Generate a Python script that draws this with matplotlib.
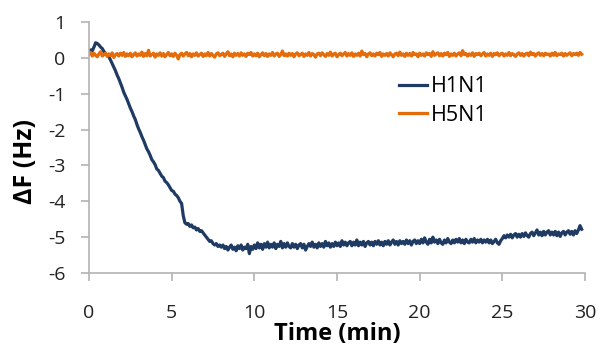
import numpy as np
import matplotlib
matplotlib.use('Agg')
import matplotlib.pyplot as plt

plt.rcParams['font.family'] = ['Open Sans', 'DejaVu Sans']
plt.rcParams['axes.unicode_minus'] = False

# sampled every 0.1 min, 0 .. 29.8 min
time_step = 0.1

h1n1 = [0.18, 0.22, 0.20, 0.30, 0.42, 0.40, 0.36, 0.30, 0.26, 0.18,
        0.12, 0.08, 0.03, -0.06, -0.16, -0.26, -0.36, -0.48, -0.58, -0.70,
        -0.82, -0.96, -1.06, -1.16, -1.28, -1.40, -1.50, -1.62, -1.72, -1.86,
        -1.98, -2.08, -2.20, -2.30, -2.42, -2.54, -2.62, -2.72, -2.84, -2.90,
        -2.98, -3.10, -3.14, -3.22, -3.30, -3.34, -3.44, -3.48, -3.54, -3.62,
        -3.70, -3.72, -3.80, -3.84, -3.90, -4.00, -4.06, -4.40, -4.60, -4.64,
        -4.62, -4.70, -4.66, -4.74, -4.72, -4.80, -4.76, -4.84, -4.82, -4.88,
        -4.94, -5.00, -5.06, -5.12, -5.10, -5.18, -5.22, -5.18, -5.26, -5.22,
        -5.28, -5.22, -5.32, -5.26, -5.36, -5.28, -5.22, -5.34, -5.28, -5.38,
        -5.24, -5.32, -5.22, -5.36, -5.28, -5.32, -5.20, -5.46, -5.26, -5.34,
        -5.22, -5.32, -5.16, -5.30, -5.20, -5.34, -5.18, -5.28, -5.14, -5.30,
        -5.20, -5.28, -5.16, -5.32, -5.20, -5.26, -5.12, -5.30, -5.18, -5.28,
        -5.16, -5.26, -5.30, -5.18, -5.28, -5.20, -5.32, -5.22, -5.18, -5.30,
        -5.20, -5.36, -5.26, -5.18, -5.26, -5.14, -5.28, -5.20, -5.30, -5.16,
        -5.26, -5.18, -5.28, -5.12, -5.24, -5.16, -5.28, -5.18, -5.26, -5.14,
        -5.24, -5.16, -5.26, -5.10, -5.22, -5.14, -5.24, -5.16, -5.12, -5.24,
        -5.14, -5.22, -5.08, -5.24, -5.14, -5.22, -5.12, -5.26, -5.16, -5.12,
        -5.22, -5.14, -5.24, -5.12, -5.20, -5.10, -5.22, -5.14, -5.24, -5.12,
        -5.20, -5.10, -5.22, -5.14, -5.08, -5.20, -5.12, -5.22, -5.10, -5.18,
        -5.12, -5.20, -5.08, -5.18, -5.10, -5.22, -5.12, -5.08, -5.18, -5.10,
        -5.18, -5.06, -5.16, -5.02, -5.14, -5.20, -5.06, -5.16, -5.00, -5.14,
        -5.08, -5.18, -5.06, -5.16, -5.20, -5.08, -5.16, -5.04, -5.14, -5.18,
        -5.08, -5.16, -5.06, -5.14, -5.04, -5.16, -5.08, -5.18, -5.06, -5.14,
        -5.16, -5.06, -5.14, -5.04, -5.16, -5.08, -5.14, -5.06, -5.16, -5.08,
        -5.14, -5.06, -5.16, -5.08, -5.18, -5.12, -5.06, -5.16, -5.20, -5.10,
        -5.04, -4.96, -5.02, -4.94, -5.00, -4.92, -5.02, -4.94, -4.90, -5.00,
        -4.92, -5.00, -4.90, -4.98, -4.88, -4.96, -5.00, -4.90, -4.86, -4.96,
        -4.88, -4.80, -4.94, -4.86, -4.96, -4.84, -4.94, -4.86, -4.82, -4.94,
        -4.86, -4.94, -4.84, -4.96, -4.86, -4.98, -4.88, -4.84, -4.94, -4.86,
        -4.82, -4.92, -4.84, -4.94, -4.82, -4.90, -4.80, -4.68, -4.78]

h5n1 = [0.10, 0.15, 0.05, 0.13, 0.07, 0.03, 0.11, 0.17, 0.05, 0.09,
        0.13, 0.04, 0.11, 0.06, 0.14, 0.01, 0.09, 0.12, 0.05, 0.13,
        0.07, 0.15, 0.04, 0.11, 0.06, 0.13, 0.03, 0.09, 0.14, 0.05,
        0.11, 0.07, 0.16, 0.04, 0.12, 0.06, 0.21, 0.05, 0.09, 0.13,
        0.02, 0.11, 0.07, 0.14, 0.05, 0.12, 0.03, 0.09, 0.15, 0.06,
        0.11, 0.04, 0.13, 0.07, -0.03, 0.09, 0.13, 0.05, 0.11, 0.15,
        0.06, 0.12, 0.03, 0.11, 0.07, 0.14, 0.05, 0.09, 0.13, 0.04,
        0.11, 0.06, 0.15, 0.05, 0.12, 0.07, 0.02, 0.11, 0.14, 0.06,
        0.09, 0.13, 0.04, 0.11, 0.17, 0.06, 0.11, 0.03, 0.13, 0.07,
        0.12, 0.05, 0.14, 0.07, 0.11, 0.04, 0.13, 0.09, 0.15, 0.05,
        0.11, 0.06, 0.13, 0.03, 0.09, 0.14, 0.06, 0.12, 0.04, 0.11,
        0.07, 0.15, 0.05, 0.11, 0.13, 0.04, 0.09, 0.19, 0.06, 0.11,
        0.05, 0.13, 0.07, 0.12, 0.03, 0.11, 0.14, 0.06, 0.09, 0.13,
        0.04, 0.11, 0.07, 0.15, 0.05, 0.12, 0.09, 0.02, 0.11, 0.13,
        0.06, 0.14, 0.09, 0.04, 0.12, 0.07, 0.16, 0.05, 0.11, 0.13,
        0.03, 0.09, 0.13, 0.06, 0.11, 0.15, 0.05, 0.12, 0.07, 0.14,
        0.04, 0.11, 0.07, 0.13, 0.05, 0.19, 0.09, 0.12, 0.03, 0.11,
        0.14, 0.06, 0.11, 0.05, 0.13, 0.09, 0.15, 0.04, 0.11, 0.07,
        0.12, 0.05, 0.14, 0.09, 0.03, 0.11, 0.13, 0.06, 0.16, 0.07,
        0.11, 0.04, 0.13, 0.07, 0.12, 0.05, 0.15, 0.09, 0.11, 0.03,
        0.13, 0.07, 0.11, 0.05, 0.14, 0.09, 0.12, 0.04, 0.17, 0.07,
        0.11, 0.14, 0.06, 0.12, 0.05, 0.13, 0.09, 0.15, 0.04, 0.11,
        0.07, 0.13, 0.05, 0.11, 0.14, 0.06, 0.20, 0.09, 0.12, 0.05,
        0.11, 0.07, 0.14, 0.04, 0.12, 0.09, 0.13, 0.06, 0.11, 0.15,
        0.05, 0.11, 0.07, 0.13, 0.04, 0.12, 0.09, 0.14, 0.06, 0.11,
        0.13, 0.05, 0.11, 0.07, 0.15, 0.06, 0.12, 0.09, 0.04, 0.11,
        0.14, 0.07, 0.12, 0.05, 0.11, 0.13, 0.06, 0.16, 0.09, 0.12,
        0.05, 0.11, 0.14, 0.07, 0.12, 0.06, 0.13, 0.09, 0.11, 0.05,
        0.13, 0.07, 0.15, 0.06, 0.11, 0.09, 0.13, 0.05, 0.12, 0.07,
        0.11, 0.14, 0.06, 0.12, 0.09, 0.13, 0.07, 0.15, 0.10]

t1 = np.arange(len(h1n1)) * time_step
t5 = np.arange(len(h5n1)) * time_step

fig = plt.figure(figsize=(5.99, 3.47), dpi=100)
ax = fig.add_axes([0.1486, 0.2133, 0.828, 0.7233])

ax.plot(t1, h1n1, color='#1F3B63', lw=2.3, label='H1N1')
ax.plot(t5, h5n1, color='#E46C0A', lw=2.3, label='H5N1')

ax.set_xlim(0, 30)
ax.set_ylim(-6, 1)
ax.set_xticks(range(0, 31, 5))
ax.set_yticks(range(-6, 2))

for s in ['top', 'right']:
    ax.spines[s].set_visible(False)
for s in ['left', 'bottom']:
    ax.spines[s].set_color('#B3B3B3')
    ax.spines[s].set_linewidth(1.2)
ax.tick_params(axis='both', colors='#B3B3B3', length=6, width=1.2,
               labelcolor='#222222', labelsize=14)
ax.tick_params(axis='x', pad=16)
ax.tick_params(axis='y', pad=11)

fig.text(337 / 599, 1 - 334 / 347, 'Time (min)', ha='center', va='center',
         fontsize=17, fontweight='bold')
fig.text(26 / 599, 1 - 162 / 347, '\u0394F (Hz)', ha='center', va='center',
         rotation=90, fontsize=18, fontweight='bold')

ax.legend(loc='upper left', bbox_to_anchor=(0.608, 0.818), frameon=False,
          fontsize=15.5, handlelength=1.3, handletextpad=0.15, labelspacing=0.35,
          borderaxespad=0)

fig.savefig('out.png', dpi=100)
